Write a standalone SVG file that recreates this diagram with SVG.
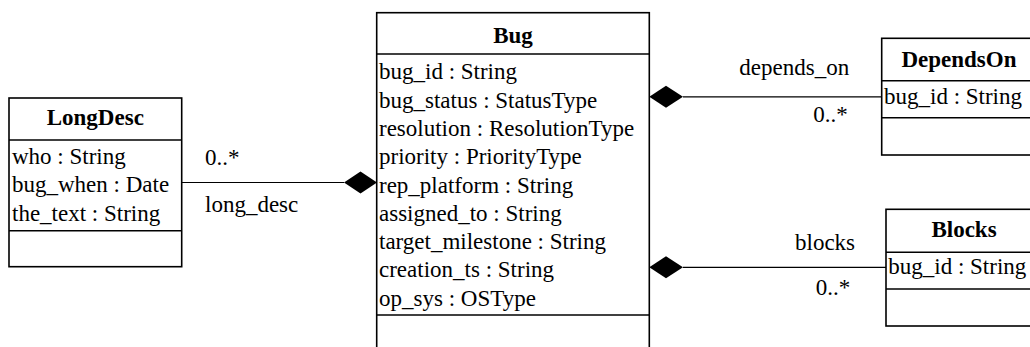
<svg xmlns="http://www.w3.org/2000/svg" width="1030" height="347" viewBox="0 0 1030 347">
<style>
text{font-family:"Liberation Serif","Times New Roman",serif;font-size:23px;fill:#000}
.t{font-weight:bold;text-anchor:middle}
.box{fill:#fff;stroke:#000;stroke-width:1.6}
.div{stroke:#000;stroke-width:1.6}
.conn{stroke:#000;stroke-width:1.2;fill:none}
.dia{fill:#000;stroke:none}
</style>
<rect width="1030" height="347" fill="#fff"/>
<g id="connectors">
<line class="conn" x1="181.7" y1="182.5" x2="344" y2="182.5"/>
<polygon class="dia" points="344,182.5 360.5,171.5 377,182.5 360.5,193.5"/>
<text x="205" y="165">0..*</text>
<text x="205" y="211.7">long_desc</text>
<line class="conn" x1="683" y1="96.8" x2="882" y2="96.8"/>
<polygon class="dia" points="649.3,96.8 666,85.8 683,96.8 666,107.8"/>
<text x="739.3" y="75">depends_on</text>
<text x="813.3" y="121.7">0..*</text>
<line class="conn" x1="683" y1="267.3" x2="886" y2="267.3"/>
<polygon class="dia" points="649.3,267.3 666,256.3 683,267.3 666,278.3"/>
<text x="795" y="250">blocks</text>
<text x="815.7" y="295">0..*</text>
</g>
<g id="LongDesc">
<rect class="box" x="9" y="98" width="172.7" height="168.7"/>
<line class="div" x1="9" y1="140" x2="181.7" y2="140"/>
<line class="div" x1="9" y1="230.7" x2="181.7" y2="230.7"/>
<text class="t" x="95.3" y="125">LongDesc</text>
<text x="12" y="164">who : String</text>
<text x="12" y="192.3">bug_when : Date</text>
<text x="12" y="220.6">the_text : String</text>
</g>
<g id="Bug">
<rect class="box" x="376.7" y="12.7" width="272.6" height="350"/>
<line class="div" x1="376.7" y1="54" x2="649.3" y2="54"/>
<line class="div" x1="376.7" y1="315" x2="649.3" y2="315"/>
<text class="t" x="513" y="42.7">Bug</text>
<text x="379" y="79.3">bug_id : String</text>
<text x="379" y="107.6">bug_status : StatusType</text>
<text x="379" y="135.9">resolution : ResolutionType</text>
<text x="379" y="164.2">priority : PriorityType</text>
<text x="379" y="192.5">rep_platform : String</text>
<text x="379" y="220.8">assigned_to : String</text>
<text x="379" y="249.1">target_milestone : String</text>
<text x="379" y="277.4">creation_ts : String</text>
<text x="379" y="305.7">op_sys : OSType</text>
</g>
<g id="DependsOn">
<rect class="box" x="881.7" y="38.3" width="155" height="116.7"/>
<line class="div" x1="881.7" y1="80.7" x2="1036.7" y2="80.7"/>
<line class="div" x1="881.7" y1="117.7" x2="1036.7" y2="117.7"/>
<text class="t" x="959" y="66.7">DependsOn</text>
<text x="884" y="104">bug_id : String</text>
</g>
<g id="Blocks">
<rect class="box" x="886" y="209.3" width="156" height="116.7"/>
<line class="div" x1="886" y1="252.3" x2="1042" y2="252.3"/>
<line class="div" x1="886" y1="289" x2="1042" y2="289"/>
<text class="t" x="964" y="236.7">Blocks</text>
<text x="888.3" y="274">bug_id : String</text>
</g>
</svg>
